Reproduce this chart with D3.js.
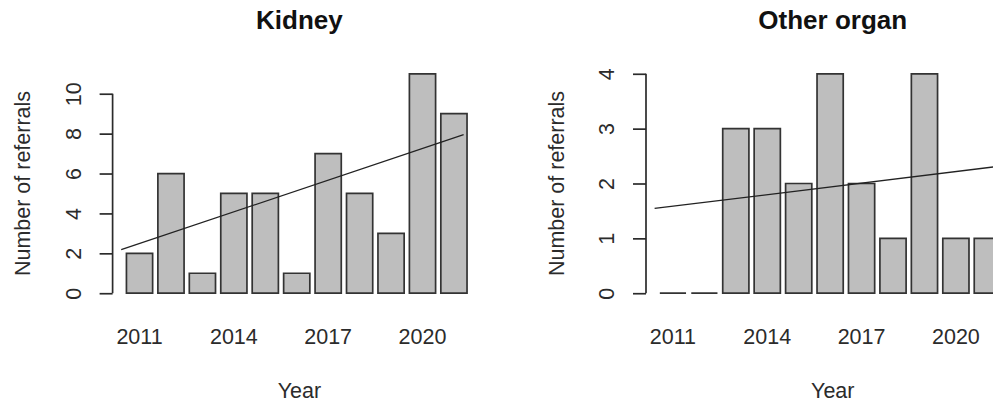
<!DOCTYPE html>
<html lang="en">
<head>
  <meta charset="UTF-8">
  <title>Referrals by year</title>
  <script src="https://d3js.org/d3.v7.min.js"></script>
  <style>
    body { margin: 0; background: #fff; }
    svg { display: block; font-family: "Liberation Sans", Arial, sans-serif; }
  </style>
</head>
<body>
  <div id="chart"></div>

  <script>
    // Data
    const years = [2011, 2012, 2013, 2014, 2015, 2016, 2017, 2018, 2019, 2020, 2021];
    const yearLabels = [2011, 2014, 2017, 2020];

    const kidneyCounts = [2, 6, 1, 5, 5, 1, 7, 5, 3, 11, 9];
    const otherCounts = [0, 0, 3, 3, 2, 4, 2, 1, 4, 1, 1];

    const kidneyTicks = [0, 2, 4, 6, 8, 10];
    const otherTicks = [0, 1, 2, 3, 4];

    // trend line end values (start, end)
    const kidneyTrend = [2.18, 7.95];
    const otherTrend = [1.545, 2.31];

    const width = 993;
    const height = 403;
    const ink = "#2b2b2b";

    const svg = d3.select("#chart")
      .append("svg")
      .attr("width", width)
      .attr("height", height);

    // one panel = one base-R style barplot
    function drawPanel(left, title, counts, ticks, trend) {
      const unit = 26.2;               // px per bar unit
      const n = counts.length;
      const xMax = n * 1.2 + 0.2;
      const xPad = 0.04 * (xMax - 0.2);

      const x = d3.scaleLinear()
        .domain([0.2 - xPad, xMax + xPad])
        .range([left, left + (xMax - 0.2 + 2 * xPad) * unit]);

      const yTop = d3.max(counts);
      const y = d3.scaleLinear()
        .domain([-0.04 * yTop, yTop * 1.04])
        .range([302, 65]);

      const g = svg.append("g");

      // bars (paths so zero-height bars still show their outline)
      g.selectAll("path.bar")
        .data(counts)
        .enter().append("path")
        .attr("class", "bar")
        .attr("d", (d, i) => {
          const x0 = x(0.2 + i * 1.2), x1 = x(1.2 + i * 1.2);
          return "M" + x0 + "," + y(0) + "H" + x1 + "V" + y(d) + "H" + x0 + "Z";
        })
        .attr("fill", "#bebebe")
        .attr("stroke", "#333")
        .attr("stroke-width", 1.7);

      // trend line
      g.append("line")
        .attr("x1", x(0)).attr("y1", y(trend[0]))
        .attr("x2", x(13.07)).attr("y2", y(trend[1]))
        .attr("stroke", "#222")
        .attr("stroke-width", 1.3);

      // y axis
      const axis = g.append("g")
        .attr("transform", "translate(" + x.range()[0] + ",0)")
        .call(d3.axisLeft(y).tickValues(ticks).tickFormat(d3.format("d")).tickSize(13).tickSizeOuter(0));

      axis.select(".domain").remove();
      axis.append("line")
        .attr("y1", y(ticks[0]))
        .attr("y2", y(ticks[ticks.length - 1]))
        .attr("stroke", ink)
        .attr("stroke-width", 1.7);
      axis.selectAll(".tick line")
        .attr("stroke", ink)
        .attr("stroke-width", 1.7);
      axis.selectAll(".tick text")
        .attr("x", null)
        .attr("dy", null)
        .attr("fill", ink)
        .attr("text-anchor", "middle")
        .attr("transform", "translate(-32,0) rotate(-90)")
        .style("font-size", "21.5px")
        .style("font-family", "'Liberation Sans', Arial, sans-serif");

      // year labels under bars
      g.selectAll("text.year")
        .data(yearLabels)
        .enter().append("text")
        .attr("class", "year")
        .attr("x", d => x(0.7 + years.indexOf(d) * 1.2))
        .attr("y", 344)
        .attr("text-anchor", "middle")
        .attr("fill", ink)
        .style("font-size", "21.5px")
        .text(d => d);

      const cx = (x.range()[0] + x.range()[1]) / 2;

      g.append("text")
        .attr("x", cx)
        .attr("y", 29)
        .attr("text-anchor", "middle")
        .attr("fill", "#111")
        .style("font-size", "26px")
        .style("font-weight", "bold")
        .text(title);

      g.append("text")
        .attr("x", cx)
        .attr("y", 398)
        .attr("text-anchor", "middle")
        .attr("fill", ink)
        .style("font-size", "21.5px")
        .text("Year");

      g.append("text")
        .attr("transform", "translate(" + (x.range()[0] - 82.5) + "," + y(yTop / 2) + ") rotate(-90)")
        .attr("text-anchor", "middle")
        .attr("fill", ink)
        .style("font-size", "21.5px")
        .text("Number of referrals");
    }

    drawPanel(112.6, "Kidney", kidneyCounts, kidneyTicks, kidneyTrend);
    drawPanel(646, "Other organ", otherCounts, otherTicks, otherTrend);
  </script>
</body>
</html>
